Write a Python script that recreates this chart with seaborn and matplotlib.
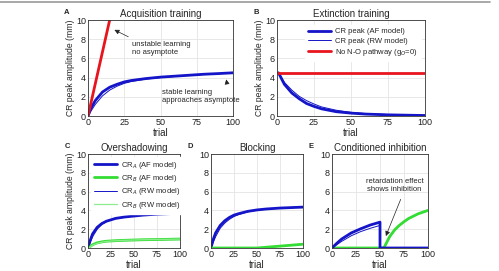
import numpy as np
import pandas as pd
import seaborn as sns
import matplotlib.pyplot as plt
from matplotlib.lines import Line2D

# colours
BLUE = "#1414c8"
RED = "#e8141e"
GREEN = "#33dd33"
LGREEN = "#8eee8e"

# ---- panel A: acquisition training
acq_trial = [0, 2, 5, 10, 15, 20, 25, 30, 40, 50, 60, 70, 80, 90, 100]
acq_af = [0, 0.8, 1.6, 2.5, 3.0, 3.3, 3.55, 3.7, 3.9, 4.05, 4.15, 4.25, 4.35, 4.42, 4.5]
acq_rw = [0, 0.5, 1.2, 2.1, 2.7, 3.1, 3.4, 3.6, 3.85, 4.0, 4.12, 4.23, 4.33, 4.41, 4.48]
unstable_trial = [0, 16]
unstable_val = [0, 10.7]

# ---- panel B: extinction training
ext_trial = [1, 5, 10, 15, 20, 25, 30, 40, 50, 60, 75, 100]
ext_af = [4.5, 3.3, 2.4, 1.8, 1.3, 1.0, 0.75, 0.45, 0.3, 0.2, 0.12, 0.05]
ext_rw = [4.5, 3.5, 2.7, 2.05, 1.6, 1.25, 0.95, 0.6, 0.38, 0.25, 0.15, 0.08]
no_no_trial = [1, 100]
no_no_val = [4.5, 4.5]

# ---- panel C: overshadowing
ovs_trial = [0, 2, 5, 10, 15, 20, 25, 30, 40, 50, 60, 75, 100]
ovs_a_af = [0, 0.7, 1.5, 2.2, 2.6, 2.85, 3.0, 3.15, 3.3, 3.4, 3.5, 3.6, 3.7]
ovs_b_af = [0, 0.15, 0.35, 0.55, 0.65, 0.72, 0.75, 0.78, 0.82, 0.85, 0.88, 0.9, 0.95]
ovs_a_rw = [0, 0.5, 1.2, 2.0, 2.5, 2.8, 2.98, 3.12, 3.28, 3.4, 3.5, 3.6, 3.7]
ovs_b_rw = [0, 0.1, 0.3, 0.5, 0.62, 0.7, 0.74, 0.77, 0.82, 0.85, 0.88, 0.9, 0.95]

# ---- panel D: blocking
blk_trial = [0, 2, 5, 10, 15, 20, 25, 30, 40, 50, 60, 75, 100]
blk_a_af = [0, 0.8, 1.6, 2.4, 2.9, 3.25, 3.5, 3.65, 3.9, 4.05, 4.15, 4.25, 4.35]
blk_a_rw = [0, 0.5, 1.2, 2.1, 2.65, 3.05, 3.35, 3.55, 3.85, 4.02, 4.13, 4.24, 4.34]
blk_b = [0, 0, 0, 0, 0, 0, 0, 0, 0, 0, 0.08, 0.2, 0.4]

# ---- panel E: conditioned inhibition
ci_a_trial = [0, 5, 10, 20, 30, 40, 50, 50.01, 75, 100]
ci_a_af = [0, 0.5, 0.95, 1.6, 2.05, 2.45, 2.75, 0, 0, 0]
ci_a_rw = [0, 0.35, 0.7, 1.3, 1.75, 2.1, 2.4, 0, 0, 0]
ci_b_trial = [0, 54, 57, 60, 65, 70, 75, 80, 90, 100]
ci_b_af = [0, 0, 0.6, 1.2, 1.9, 2.4, 2.8, 3.15, 3.65, 4.0]
ci_b_rw = [0, 0, 0.5, 1.1, 1.8, 2.33, 2.75, 3.1, 3.62, 3.98]

YLAB = "CR peak amplitude (mm)"

sns.set_style("whitegrid")
plt.rcParams["font.family"] = ["Liberation Sans", "DejaVu Sans"]

W, H = 499, 271
fig = plt.figure(figsize=(W / 100, H / 100), dpi=100)

# axes boxes in pixels: left, right, top, bottom
boxes = {"A": (88, 233, 20, 116), "B": (277, 425, 20, 116),
         "C": (88, 180, 154, 248), "D": (211, 303, 154, 248),
         "E": (332, 428, 154, 248)}
axs = {}
for k, (l, r, t, b) in boxes.items():
    axs[k] = fig.add_axes([l / W, 1 - b / H, (r - l) / W, (b - t) / H])
axA, axB, axC, axD, axE = (axs[k] for k in "ABCDE")


def line(ax, x, y, color, lw, label=None):
    sns.lineplot(x=x, y=y, ax=ax, color=color, linewidth=lw, label=label,
                 estimator=None, sort=False, legend=label is not None)


line(axA, acq_trial, acq_rw, BLUE, 0.7)
line(axA, acq_trial, acq_af, BLUE, 2.0)
line(axA, unstable_trial, unstable_val, RED, 2.0)

line(axB, ext_trial, ext_af, BLUE, 2.0, "CR peak (AF model)")
line(axB, ext_trial, ext_rw, BLUE, 0.7, "CR peak (RW model)")
line(axB, no_no_trial, no_no_val, RED, 2.0, "No N-O pathway (g$_O$=0)")

line(axC, ovs_trial, ovs_a_af, BLUE, 2.0, "CR$_A$ (AF model)")
line(axC, ovs_trial, ovs_b_af, GREEN, 2.0, "CR$_B$ (AF model)")
line(axC, ovs_trial, ovs_a_rw, BLUE, 0.7, "CR$_A$ (RW model)")
line(axC, ovs_trial, ovs_b_rw, LGREEN, 0.9, "CR$_B$ (RW model)")

line(axD, blk_trial, blk_a_rw, BLUE, 0.7)
line(axD, blk_trial, blk_a_af, BLUE, 2.0)
line(axD, blk_trial, blk_b, GREEN, 2.0)

line(axE, ci_b_trial, ci_b_rw, LGREEN, 0.9)
line(axE, ci_b_trial, ci_b_af, GREEN, 2.0)
line(axE, ci_a_trial, ci_a_rw, BLUE, 0.7)
line(axE, ci_a_trial, ci_a_af, BLUE, 2.0)

titles = {"A": "Acquisition training", "B": "Extinction training",
          "C": "Overshadowing", "D": "Blocking", "E": "Conditioned inhibition"}
for k, ax in axs.items():
    ax.set_xlim(0, 100)
    ax.set_ylim(0, 10)
    ax.set_xticks([0, 25, 50, 75, 100])
    ax.set_yticks([0, 2, 4, 6, 8, 10])
    ax.tick_params(labelsize=6.5, direction="in", length=2, pad=1.5, colors="#222222")
    ax.grid(True, color="#e4e4e4", linewidth=0.6)
    for s in ax.spines.values():
        s.set_color("#333333")
        s.set_linewidth(0.6)
    ax.set_title(titles[k], fontsize=7, pad=2.5)
    ax.set_xlabel("trial", fontsize=7, labelpad=0.5)
    ax.set_ylabel(YLAB if k in "ABC" else "", fontsize=6.2, labelpad=1)
    l, r, t, b = boxes[k]
    fig.text((l - 21) / W, 1 - (t - 8) / H, k, fontsize=5.5, fontweight="bold",
             ha="center", va="center")

arrow = dict(arrowstyle="-|>", color="#222222", lw=0.5, mutation_scale=7)
axA.annotate("unstable learning\nno asymptote", xy=(16.5, 9.1), xytext=(30, 7.0),
             fontsize=5.5, ha="left", va="center",
             arrowprops=dict(arrow, relpos=(0.1, 1.0)))
axA.annotate("stable learning\napproaches asymptote", xy=(95, 4.1), xytext=(51, 2.05),
             fontsize=5.5, ha="left", va="center",
             arrowprops=dict(arrow, relpos=(0.85, 1.0)))
axE.annotate("retardation effect\nshows inhibition", xy=(55, 1.0), xytext=(65, 6.6),
             fontsize=5.5, ha="center", va="center",
             arrowprops=dict(arrow, relpos=(0.65, 0.0)))

leg_kw = dict(fontsize=5.5, handlelength=3.0, labelspacing=0.3, handletextpad=0.5,
              borderaxespad=0, fancybox=False, framealpha=1, edgecolor="white")
legB = axB.legend(loc="upper right", bbox_to_anchor=(0.97, 0.95), **leg_kw)
legC = axC.legend(loc="upper left", bbox_to_anchor=(0.03, 0.97), **leg_kw)
for leg in (legB, legC):
    leg.set_zorder(10)

# thin grey rule across the top of the figure
fig.add_artist(Line2D([0, 490 / W], [1 - 1.5 / H] * 2, color="#999999", lw=1.2))

fig.savefig("out.png", dpi=100)
